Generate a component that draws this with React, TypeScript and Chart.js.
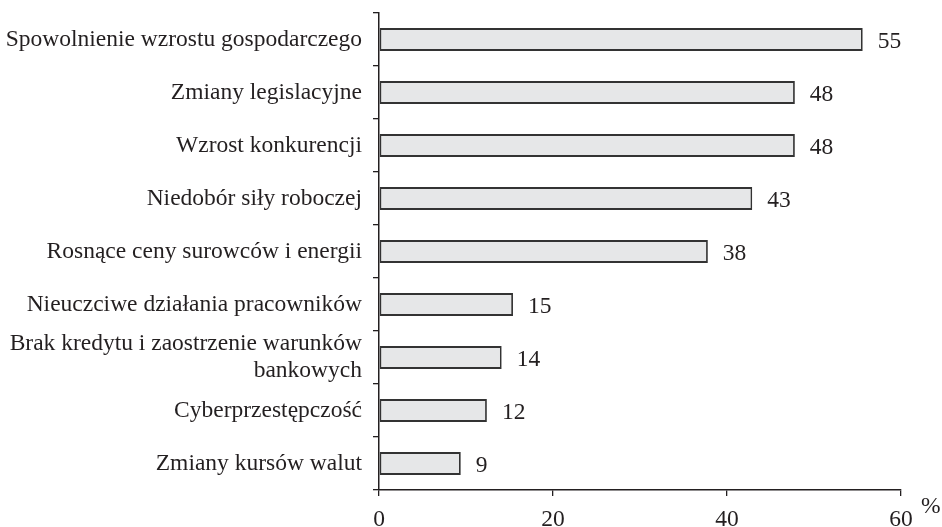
import React, { useEffect, useRef } from "react";
import { Chart, registerables } from "chart.js";

Chart.register(...registerables);

const categories: (string | string[])[] = [
  "Spowolnienie wzrostu gospodarczego",
  "Zmiany legislacyjne",
  "Wzrost konkurencji",
  "Niedobór siły roboczej",
  "Rosnące ceny surowców i energii",
  "Nieuczciwe działania pracowników",
  ["Brak kredytu i zaostrzenie warunków", "bankowych"],
  "Cyberprzestępczość",
  "Zmiany kursów walut",
];
// bar lengths
const values = [55.6, 47.8, 47.8, 42.9, 37.8, 15.4, 14.1, 12.4, 9.4];
// numbers printed next to the bars
const valueLabels = ["55", "48", "48", "43", "38", "15", "14", "12", "9"];
const xTicks = [0, 20, 40, 60];
const unitLabel = "%";

const FONT = "'Liberation Serif', 'Times New Roman', serif";
const TEXT = "#231f20";
const LINE = "#231f20";
const FS = 23.5;

export default function App() {
  const ref = useRef<HTMLCanvasElement | null>(null);
  useEffect(() => {
    if (!ref.current) return;
    const valuePlugin = {
      id: "valueLabels",
      afterDatasetsDraw(chart: any) {
        const ctx = chart.ctx;
        const meta = chart.getDatasetMeta(0);
        ctx.save();
        ctx.font = `${FS}px ${FONT}`;
        ctx.fillStyle = TEXT;
        ctx.textAlign = "left";
        ctx.textBaseline = "middle";
        meta.data.forEach((el: any, i: number) => {
          ctx.fillText(valueLabels[i], el.x + 15, el.y + 2);
        });
        const xs = chart.scales.x;
        ctx.fillText(unitLabel, xs.right + 20, xs.top + 17);
        ctx.restore();
      },
    };
    const chart = new Chart(ref.current, {
      type: "bar",
      data: {
        labels: categories,
        datasets: [
          {
            data: values,
            backgroundColor: "#e6e7e8",
            borderColor: "#333333",
            borderWidth: 1.8,
            borderSkipped: false,
            barPercentage: 0.43,
            categoryPercentage: 1,
          },
        ],
      },
      options: {
        indexAxis: "y",
        animation: false,
        responsive: false,
        layout: { padding: { top: 13, right: 41, bottom: 0, left: 0 } },
        plugins: { legend: { display: false }, tooltip: { enabled: false } },
        scales: {
          x: {
            min: 0,
            max: 60,
            afterBuildTicks(scale: any) {
              scale.ticks = xTicks.map((v) => ({ value: v }));
            },
            afterFit(scale: any) {
              scale.height = 37;
            },
            grid: {
              drawOnChartArea: false,
              drawTicks: true,
              tickLength: 6,
              color: LINE,
              lineWidth: 1.3,
            },
            border: { display: true, color: LINE, width: 1.5 },
            ticks: {
              font: { family: FONT, size: FS },
              color: TEXT,
              padding: 10,
              maxRotation: 0,
            },
          },
          y: {
            afterFit(scale: any) {
              scale.width = 379;
              scale.paddingTop = 0;
              scale.paddingBottom = 0;
            },
            grid: {
              drawOnChartArea: false,
              drawTicks: true,
              tickLength: 6,
              color: LINE,
              lineWidth: 1.3,
            },
            border: { display: true, color: LINE, width: 1.5 },
            ticks: {
              font: { family: FONT, size: FS, lineHeight: 1.16 },
              color: TEXT,
              padding: 11,
              autoSkip: false,
            },
          },
        },
      },
      plugins: [valuePlugin],
    });
    return () => chart.destroy();
  }, []);
  return (
    <div style={{ position: "absolute", left: 0, top: 0, width: 942, height: 527, background: "#fff" }}>
      <canvas ref={ref} width={942} height={527} />
    </div>
  );
}
